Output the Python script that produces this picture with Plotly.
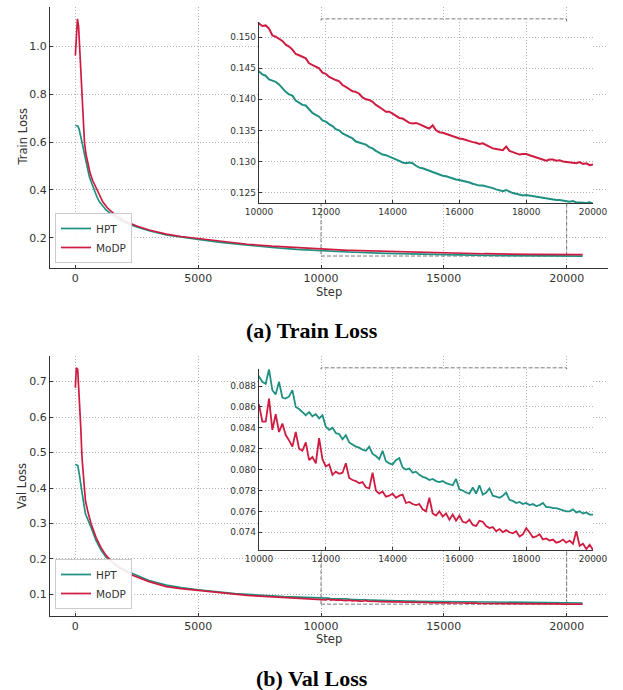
import plotly.graph_objects as go

# ---------------- data ----------------
# Train loss
hpt_train_steps_early = [0, 100, 150, 230, 300, 370, 460, 570, 650, 760, 880, 980, 1250, 1660,
                         2000, 2500, 3000, 3700, 4300, 5000, 6000, 7000, 8000, 9000]
hpt_train_early = [0.669, 0.667, 0.655, 0.623, 0.585, 0.550, 0.500, 0.455, 0.432, 0.400, 0.370,
                   0.350, 0.316, 0.283, 0.264, 0.245, 0.229, 0.212, 0.202, 0.193, 0.179, 0.168,
                   0.159, 0.151]
modp_train_steps_early = [0, 40, 85, 130, 170, 210, 250, 300, 370, 430, 500, 600, 700, 870, 1000,
                          1115, 1300, 1660, 2000, 2500, 3000, 3700, 4300, 5000, 6000, 7000, 8000, 9000]
modp_train_early = [0.962, 1.070, 1.115, 1.085, 1.010, 0.930, 0.830, 0.720, 0.600, 0.550, 0.510,
                    0.470, 0.440, 0.400, 0.372, 0.350, 0.325, 0.292, 0.270, 0.249, 0.232, 0.215,
                    0.205, 0.196, 0.183, 0.1725, 0.1645, 0.158]
# 10000 .. 20000 every 100 steps
train_zoom_steps = list(range(10000, 20001, 100))
hpt_train_zoom = [0.1445, 0.1440, 0.1438, 0.1432, 0.1430, 0.1428, 0.1424, 0.1418, 0.1412, 0.1408,
                  0.1406, 0.1398, 0.1394, 0.1391, 0.1390, 0.1384, 0.1378, 0.1375, 0.1372, 0.1366,
                  0.1364, 0.1360, 0.1357, 0.1352, 0.1350, 0.1345, 0.1342, 0.1340, 0.1337, 0.1332,
                  0.1330, 0.1329, 0.1327, 0.1323, 0.1321, 0.1317, 0.1314, 0.1311, 0.1310, 0.1308,
                  0.1306, 0.1303, 0.1301, 0.1298, 0.1297, 0.1298, 0.1297, 0.1293, 0.1290, 0.1289,
                  0.1287, 0.1285, 0.1282, 0.1280, 0.1278, 0.1277, 0.1276, 0.1274, 0.1272, 0.1271,
                  0.1270, 0.1269, 0.1268, 0.1266, 0.1264, 0.1262, 0.1261, 0.1261, 0.1260, 0.1258,
                  0.1257, 0.1255, 0.1253, 0.1252, 0.1254, 0.1251, 0.1249, 0.1248, 0.1247, 0.1245,
                  0.1246, 0.1245, 0.1244, 0.1243, 0.1242, 0.1241, 0.1240, 0.1240, 0.1239, 0.1238,
                  0.1238, 0.1237, 0.1236, 0.1235, 0.1236, 0.1234, 0.1234, 0.1233, 0.1233, 0.1234,
                  0.1232]
modp_train_zoom = [0.1522, 0.1518, 0.1519, 0.1514, 0.1503, 0.1501, 0.1497, 0.1494, 0.1488, 0.1485,
                   0.1480, 0.1473, 0.1471, 0.1468, 0.1466, 0.1458, 0.1455, 0.1453, 0.1450, 0.1443,
                   0.1441, 0.1436, 0.1433, 0.1431, 0.1429, 0.1423, 0.1420, 0.1417, 0.1413, 0.1412,
                   0.1409, 0.1403, 0.1400, 0.1399, 0.1396, 0.1391, 0.1388, 0.1384, 0.1380, 0.1380,
                   0.1377, 0.1373, 0.1370, 0.1369, 0.1366, 0.1362, 0.1361, 0.1362, 0.1360, 0.1357,
                   0.1355, 0.1353, 0.1358, 0.1350, 0.1347, 0.1346, 0.1344, 0.1343, 0.1340, 0.1338,
                   0.1337, 0.1336, 0.1334, 0.1333, 0.1331, 0.1330, 0.1328, 0.1329, 0.1326, 0.1323,
                   0.1321, 0.1320, 0.1319, 0.1318, 0.1324, 0.1317, 0.1315, 0.1313, 0.1311, 0.1312,
                   0.1312, 0.1310, 0.1308, 0.1306, 0.1305, 0.1302, 0.1301, 0.1303, 0.1303, 0.1301,
                   0.1302, 0.1300, 0.1299, 0.1298, 0.1298, 0.1297, 0.1299, 0.1296, 0.1297, 0.1294,
                   0.1295]
train_end_step = [20650]
hpt_train_end = [0.1228]
modp_train_end = [0.1292]

# Val loss
hpt_val_steps_early = [0, 100, 160, 230, 300, 410, 500, 640, 840, 1050, 1250, 1450, 1800, 2350,
                       3000, 3700, 4300, 5000, 5500, 6000, 6500, 7000, 7500, 8000, 8500, 9000, 9500]
hpt_val_early = [0.467, 0.463, 0.439, 0.402, 0.374, 0.327, 0.313, 0.289, 0.252, 0.224, 0.205,
                 0.194, 0.177, 0.158, 0.139, 0.126, 0.119, 0.113, 0.109, 0.106, 0.102, 0.100,
                 0.097, 0.0955, 0.0935, 0.0925, 0.0905]
modp_val_steps_early = [0, 40, 95, 160, 220, 270, 330, 410, 500, 640, 840, 1050, 1250, 1450, 1800,
                        2350, 3000, 3700, 4300, 5000, 5500, 6000, 6500, 7000, 7500, 8000, 8500,
                        9000, 9500]
modp_val_early = [0.683, 0.739, 0.735, 0.664, 0.571, 0.486, 0.421, 0.364, 0.336, 0.299, 0.261,
                  0.231, 0.210, 0.194, 0.174, 0.153, 0.136, 0.122, 0.116, 0.111, 0.106, 0.103,
                  0.099, 0.097, 0.095, 0.093, 0.0905, 0.0895, 0.0875]
# 10000 .. 20000 every 100 steps
val_zoom_steps = list(range(10000, 20001, 100))
hpt_val_zoom = [0.0889, 0.0884, 0.0882, 0.0896, 0.0876, 0.0872, 0.0884, 0.0869, 0.0868, 0.0870,
                0.0876, 0.0860, 0.0858, 0.0855, 0.0852, 0.0855, 0.0851, 0.0853, 0.0849, 0.0852,
                0.0841, 0.0838, 0.0840, 0.0835, 0.0834, 0.0829, 0.0833, 0.0826, 0.0824, 0.0822,
                0.0821, 0.0819, 0.0818, 0.0822, 0.0815, 0.0813, 0.0810, 0.0818, 0.0808, 0.0806,
                0.0805, 0.0809, 0.0811, 0.0802, 0.0800, 0.0801, 0.0797, 0.0798, 0.0795, 0.0793,
                0.0792, 0.0790, 0.0791, 0.0789, 0.0788, 0.0789, 0.0787, 0.0786, 0.0785, 0.0791,
                0.0781, 0.0780, 0.0778, 0.0777, 0.0783, 0.0777, 0.0785, 0.0776, 0.0778, 0.0782,
                0.0775, 0.0774, 0.0773, 0.0775, 0.0778, 0.0771, 0.0770, 0.0768, 0.0769, 0.0767,
                0.0768, 0.0766, 0.0767, 0.0765, 0.0766, 0.0768, 0.0764, 0.0764, 0.0763, 0.0763,
                0.0762, 0.0761, 0.0760, 0.0760, 0.0762, 0.0759, 0.0760, 0.0758, 0.0759, 0.0757,
                0.0757]
modp_val_zoom = [0.0862, 0.0846, 0.0846, 0.0868, 0.0838, 0.0853, 0.0836, 0.0844, 0.0833, 0.0828,
                 0.0822, 0.0836, 0.0820, 0.0818, 0.0826, 0.0809, 0.0812, 0.0806, 0.0830, 0.0810,
                 0.0803, 0.0805, 0.0795, 0.0798, 0.0796, 0.0797, 0.0806, 0.0792, 0.0790, 0.0789,
                 0.0787, 0.0788, 0.0783, 0.0782, 0.0797, 0.0780, 0.0777, 0.0779, 0.0774, 0.0775,
                 0.0777, 0.0773, 0.0775, 0.0776, 0.0768, 0.0769, 0.0767, 0.0766, 0.0767, 0.0762,
                 0.0760, 0.0773, 0.0758, 0.0756, 0.0760, 0.0755, 0.0758, 0.0752, 0.0757, 0.0751,
                 0.0756, 0.0750, 0.0749, 0.0752, 0.0747, 0.0746, 0.0751, 0.0750, 0.0746, 0.0744,
                 0.0745, 0.0741, 0.0743, 0.0740, 0.0742, 0.0740, 0.0739, 0.0741, 0.0736, 0.0738,
                 0.0744, 0.0740, 0.0735, 0.0736, 0.0738, 0.0733, 0.0734, 0.0732, 0.0733, 0.0730,
                 0.0731, 0.0733, 0.0730, 0.0732, 0.0729, 0.0741, 0.0727, 0.0729, 0.0724, 0.0728,
                 0.0723]
val_end_step = [20650]
hpt_val_end = [0.0756]
modp_val_end = [0.0724]

# axis settings
main_x_ticks = [0, 5000, 10000, 15000, 20000]
train_y_ticks = [0.2, 0.4, 0.6, 0.8, 1.0]
val_y_ticks = [0.1, 0.2, 0.3, 0.4, 0.5, 0.6, 0.7]
inset_x_ticks = [10000, 12000, 14000, 16000, 18000, 20000]
train_inset_y_ticks = [0.125, 0.130, 0.135, 0.140, 0.145, 0.150]
val_inset_y_ticks = [0.074, 0.076, 0.078, 0.080, 0.082, 0.084, 0.086, 0.088]
inset_x_range = [10000, 20000]
train_inset_y_range = [0.1233, 0.1525]
val_inset_y_range = [0.0723, 0.0896]

HPT_COLOR = "#1e9082"
MODP_COLOR = "#cf1b40"
TEXT = "#333333"
GRID = "#b4b4b4"

# ---------------- assemble series ----------------
hpt_train_x = hpt_train_steps_early + train_zoom_steps + train_end_step
hpt_train_y = hpt_train_early + hpt_train_zoom + hpt_train_end
modp_train_x = modp_train_steps_early + train_zoom_steps + train_end_step
modp_train_y = modp_train_early + modp_train_zoom + modp_train_end
hpt_val_x = hpt_val_steps_early + val_zoom_steps + val_end_step
hpt_val_y = hpt_val_early + hpt_val_zoom + hpt_val_end
modp_val_x = modp_val_steps_early + val_zoom_steps + val_end_step
modp_val_y = modp_val_early + modp_val_zoom + modp_val_end

def pad_range(vals, frac=0.05):
    lo, hi = min(vals), max(vals)
    d = hi - lo
    return [lo - frac * d, hi + frac * d]

x_main_range = pad_range(hpt_train_x + modp_train_x)
train_y_range = pad_range(hpt_train_y + modp_train_y)
val_y_range = pad_range(hpt_val_y + modp_val_y)

W, H = 623, 690
def px_x(a, b):
    return [a / W, b / W]
def px_y(top, bottom):
    return [1 - bottom / H, 1 - top / H]

fig = go.Figure()

def add(x, y, name, color, xa, ya, legend, show, width):
    fig.add_trace(go.Scatter(x=x, y=y, name=name, mode="lines",
                             line=dict(color=color, width=width),
                             xaxis=xa, yaxis=ya, legend=legend, showlegend=show,
                             hoverinfo="skip"))

add(hpt_train_x, hpt_train_y, "HPT", HPT_COLOR, "x", "y", "legend", True, 1.7)
add(modp_train_x, modp_train_y, "MoDP", MODP_COLOR, "x", "y", "legend", True, 1.7)
add(hpt_train_x, hpt_train_y, "HPT", HPT_COLOR, "x2", "y2", "legend", False, 2.0)
add(modp_train_x, modp_train_y, "MoDP", MODP_COLOR, "x2", "y2", "legend", False, 2.0)
add(hpt_val_x, hpt_val_y, "HPT", HPT_COLOR, "x3", "y3", "legend2", True, 1.7)
add(modp_val_x, modp_val_y, "MoDP", MODP_COLOR, "x3", "y3", "legend2", True, 1.7)
add(hpt_val_x, hpt_val_y, "HPT", HPT_COLOR, "x4", "y4", "legend2", False, 1.8)
add(modp_val_x, modp_val_y, "MoDP", MODP_COLOR, "x4", "y4", "legend2", False, 1.8)

tick_font = dict(family="DejaVu Sans", size=11, color=TEXT)
inset_tick_font = dict(family="DejaVu Sans", size=9, color=TEXT)

def axis(domain, rng, ticks, fmt, font, anchor):
    return dict(domain=domain, range=rng, tickvals=ticks, tickformat=fmt,
                tickfont=font, showgrid=True, gridcolor=GRID, griddash="1px,2px", gridwidth=1,
                showline=True, linecolor="#333333", linewidth=1.3, mirror=False,
                ticks="inside", ticklen=3, tickcolor="#333333", zeroline=False,
                anchor=anchor, fixedrange=True, automargin=False)

main_xd = px_x(50, 608)
inset_xd = px_x(259, 593)
top_main_yd = px_y(7, 268)
top_inset_yd = px_y(21.7, 203)
bot_main_yd = px_y(356, 616)
bot_inset_yd = px_y(369.3, 550)

legend_common = dict(xanchor="left", yanchor="bottom",
                     bgcolor="rgba(255,255,255,0.9)", bordercolor="#cccccc", borderwidth=1,
                     font=dict(family="DejaVu Sans", size=10.5, color=TEXT), itemwidth=30,
                     tracegroupgap=0)

fig.update_layout(
    width=W, height=H, autosize=False,
    margin=dict(l=0, r=0, t=0, b=0, pad=0, autoexpand=False),
    paper_bgcolor="white", plot_bgcolor="white",
    xaxis=axis(main_xd, x_main_range, main_x_ticks, "d", tick_font, "y"),
    yaxis=axis(top_main_yd, train_y_range, train_y_ticks, ".1f", tick_font, "x"),
    xaxis2=axis(inset_xd, inset_x_range, inset_x_ticks, "d", inset_tick_font, "y2"),
    yaxis2=axis(top_inset_yd, train_inset_y_range, train_inset_y_ticks, ".3f", inset_tick_font, "x2"),
    xaxis3=axis(main_xd, x_main_range, main_x_ticks, "d", tick_font, "y3"),
    yaxis3=axis(bot_main_yd, val_y_range, val_y_ticks, ".1f", tick_font, "x3"),
    xaxis4=axis(inset_xd, inset_x_range, inset_x_ticks, "d", inset_tick_font, "y4"),
    yaxis4=axis(bot_inset_yd, val_inset_y_range, val_inset_y_ticks, ".3f", inset_tick_font, "x4"),
    legend=dict(x=55 / W, y=1 - 263 / H, **legend_common),
    legend2=dict(x=55 / W, y=1 - 609 / H, **legend_common),
)

# zoom-indicator rectangles
fig.add_shape(type="rect", xref="x", yref="y", x0=inset_x_range[0], x1=inset_x_range[1],
              y0=train_inset_y_range[0], y1=max(modp_train_y),
              line=dict(color="#7a7a7a", width=1, dash="4px,2px"), layer="between")
fig.add_shape(type="rect", xref="x3", yref="y3", x0=inset_x_range[0], x1=inset_x_range[1],
              y0=val_inset_y_range[0], y1=max(modp_val_y),
              line=dict(color="#7a7a7a", width=1, dash="4px,2px"), layer="between")

label_font = dict(family="DejaVu Sans", size=11.5, color=TEXT)
title_font = dict(family="Liberation Serif", size=22, color="black")

def ann(text, x, y, font, angle=0):
    fig.add_annotation(text=text, x=x, y=y, xref="paper", yref="paper", showarrow=False,
                       font=font, textangle=angle, xanchor="center", yanchor="middle")

ann("Train Loss", 22 / W, (top_main_yd[0] + top_main_yd[1]) / 2, label_font, -90)
ann("Val Loss", 22 / W, (bot_main_yd[0] + bot_main_yd[1]) / 2, label_font, -90)
ann("Step", 329 / W, 1 - 292 / H, label_font)
ann("Step", 329 / W, 1 - 639 / H, label_font)
ann("<b>(a) Train Loss</b>", 312 / W, 1 - 330 / H, title_font)
ann("<b>(b) Val Loss</b>", 312 / W, 1 - 678 / H, title_font)

fig.write_html("out.html",
               config={"displayModeBar": False},
               post_script="document.body.style.margin='0px';"
                           "document.body.style.overflow='hidden';")
